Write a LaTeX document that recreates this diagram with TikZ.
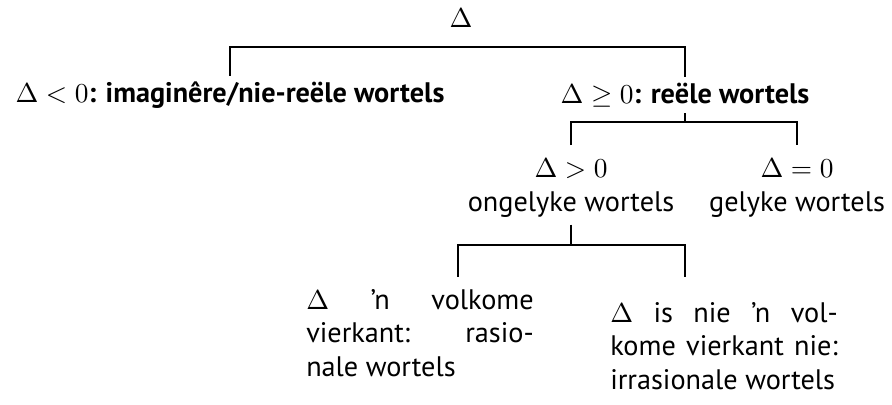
\documentclass[tikz,border=0pt]{standalone}
\usepackage{fontspec}
\setmainfont{PT Sans}
\begin{document}
\begin{tikzpicture}[x=0.4pt,y=-0.4pt,
  every node/.style={font=\fontsize{11.3}{13.4}\selectfont, inner sep=0pt, outer sep=0pt},
  lab/.style={outer ysep=2.4pt},
  two/.style={align=center, outer ysep=3pt},
  leaf/.style={text width=91pt, align=justify},
  conn/.style={line width=0.75pt}]
\useasboundingbox (0,0) rectangle (892,405);
\node (T) at (461,18) {$\Delta$};
\node[lab] (L) at (230,95) {$\Delta<0$\textbf{: imaginêre/nie-reële wortels}};
\node[lab] (R) at (685,95) {$\Delta\geq0$\textbf{: reële wortels}};
\node[two] (G) at (571,188) {$\Delta>0$\\ongelyke wortels};
\node[two] (E) at (797,188) {$\Delta=0$\\gelyke wortels};
\node[leaf] (P) at (420,333) {$\Delta$ ’n volkome\linebreak vierkant: rasio-\linebreak nale wortels};
\node[leaf] (Q) at (724,346) {$\Delta$ is nie ’n vol-\linebreak kome vierkant nie:\linebreak irrasionale wortels};
\coordinate (b1) at (461,47);
\coordinate (b2) at (685,122);
\coordinate (b3) at (571,245);
\coordinate (pa) at (458,277);
\coordinate (qa) at (685,277);
\draw[conn] (L.north) |- (b1) -| (R.north);
\draw[conn] (R.south) -- (b2);
\draw[conn, shorten <=2.5pt, shorten >=2.5pt] (G.north) |- (b2) -| (E.north);
\draw[conn] (G.south) -- (b3);
\draw[conn] (pa) |- (b3) -| (qa);
\end{tikzpicture}
\end{document}
